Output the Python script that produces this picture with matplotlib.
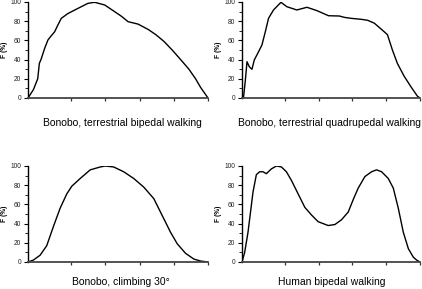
import matplotlib
matplotlib.use("Agg")
import matplotlib.pyplot as plt
from matplotlib.ticker import MultipleLocator

plt.rcParams['font.family'] = ['Liberation Sans', 'DejaVu Sans']

# Panel 1: Bonobo, terrestrial bipedal walking
x1 = [0, 3.0, 5.4, 6.3, 7.4, 9.3, 11.1, 13.0, 14.8, 16.6, 18.5, 22.2, 27.8, 33.3, 37.0,
      42.6, 48.1, 52.0, 55.6, 61.1, 66.7, 71.0, 75.5, 80.1, 84.8, 89.4, 93.1, 95.9, 100]
y1 = [0, 8.7, 20, 36, 41, 52, 60.5, 65, 69, 76, 83, 88, 93.4, 98.6, 99.7,
      96.9, 90, 85, 79.5, 77, 71.5, 66, 59, 50, 40, 30, 20, 11, 0]

# Panel 2: Bonobo, terrestrial quadrupedal walking
x2 = [0.5, 0.9, 1.9, 2.8, 4.1, 5.6, 6.9, 9.3, 11.2, 13.1, 14.9, 17.7, 21.9, 25.2,
      30.8, 36.5, 42.1, 48.6, 54.7, 57.5, 61.2, 66.8, 70.5, 74.3, 79.9, 81.7,
      84.5, 87.3, 91.0, 94.8, 98.5, 100]
y2 = [0, 1.4, 18.8, 37.8, 32.6, 29.9, 39.6, 48.2, 55.2, 69, 83, 91.7, 99.7, 95.1,
      91.7, 94.5, 91, 85.7, 85.4, 84, 83, 82, 81, 78, 69, 66,
      50, 36, 23, 12, 2, 0]

# Panel 3: Bonobo, climbing 30°
px3 = [84, 100, 120, 140, 160, 180, 200, 215, 240, 270, 300, 315, 340, 370, 400, 430,
       460, 490, 510, 530, 555, 580, 600, 622]
y3 = [0, 2, 7, 17, 37, 56, 71, 79, 87, 96, 99, 100, 99, 94, 87, 78,
      66, 45, 31, 19, 9, 3, 1, 0]
x3 = [(p - 84) / 538 * 100 for p in px3]

# Panel 4: Human bipedal walking
px4 = [92, 100, 110, 125, 135, 145, 155, 165, 180, 195, 210, 225, 240, 260, 280, 300,
       320, 350, 370, 390, 410, 425, 440, 460, 480, 495, 510, 530, 545, 560, 575, 590,
       605, 615, 625]
y4 = [0, 10, 31, 73, 91, 94, 94, 92, 97, 100, 99, 94, 85, 71, 57, 49,
      42, 38, 39, 44, 52, 65, 77, 89, 94, 96, 94, 87, 77, 56, 31, 14,
      5, 2, 0]
x4 = [(p - 92) / 533 * 100 for p in px4]

titles = ["Bonobo, terrestrial bipedal walking",
          "Bonobo, terrestrial quadrupedal walking",
          "Bonobo, climbing 30°",
          "Human bipedal walking"]
xticks = [24, 43, 62, 81, 100]
yticks = [0, 20, 40, 60, 80, 100]

W, H = 422, 289
fig = plt.figure(figsize=(W / 100, H / 100), dpi=100)

# (left, right, top, bottom) in pixels
boxes = [(28, 208, 2, 98), (242, 420, 2, 98), (28, 208, 166, 262), (242, 420, 166, 262)]
title_pos = [(122, 123), (329, 123), (121, 282), (332, 282)]
ylab_pos = [(5, 50), (218, 50), (5, 214), (218, 214)]
data = [(x1, y1), (x2, y2), (x3, y3), (x4, y4)]

for (l, r, t, b), (xs, ys), title, tp, yp in zip(boxes, data, titles, title_pos, ylab_pos):
    ax = fig.add_axes([l / W, 1 - b / H, (r - l) / W, (b - t) / H])
    ax.plot(xs, ys, color='black', lw=1.0, solid_joinstyle='round')
    ax.set_xlim(0, 100)
    ax.set_ylim(0, 100)
    ax.set_xticks(xticks)
    ax.set_xticklabels([])
    ax.set_yticks(yticks)
    ax.yaxis.set_minor_locator(MultipleLocator(10))
    ax.tick_params(axis='y', which='major', labelsize=4.8, length=3, width=0.8,
                   pad=2, direction='out', colors='black', labelcolor='#222222')
    ax.tick_params(axis='y', which='minor', length=2, width=0.6, direction='out')
    ax.tick_params(axis='x', which='major', length=2.5, width=0.9, direction='out',
                   color='#333333')
    for s in ['top', 'right']:
        ax.spines[s].set_visible(False)
    ax.spines['left'].set_linewidth(1.0)
    ax.spines['bottom'].set_linewidth(1.3)
    ax.spines['bottom'].set_color('#444444')
    ax.patch.set_alpha(0)
    for lab in ax.get_yticklabels():
        lab.set_clip_on(False)
    fig.text(tp[0] / W, 1 - tp[1] / H, title, ha='center', va='center',
             fontsize=7.5, color='black')
    fig.text(yp[0] / W, 1 - yp[1] / H, "F (%)", ha='center', va='center',
             rotation=90, fontsize=4.8, fontweight='bold')

fig.savefig("out.png", dpi=100)
